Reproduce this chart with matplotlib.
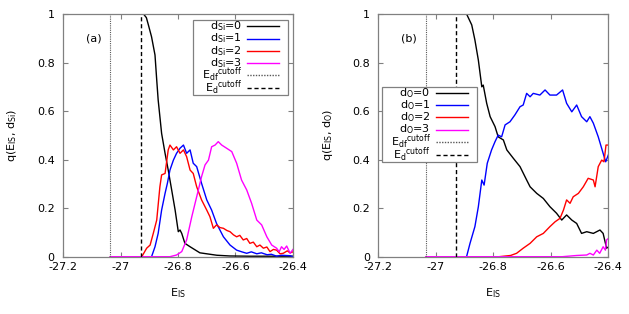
import numpy as np
import matplotlib
matplotlib.use("Agg")
import matplotlib.pyplot as plt
from matplotlib.patches import Rectangle
from matplotlib.ticker import FuncFormatter

plt.rcParams['font.family'] = ['DejaVu Sans']
plt.rcParams['font.size'] = 8
plt.rcParams['mathtext.default'] = 'regular'
plt.rcParams['axes.unicode_minus'] = False

# cutoff energies
e_df = -27.035
e_d = -26.93

xticks = [-27.2, -27.0, -26.8, -26.6, -26.4]
xticklabels = ["-27.2", "-27", "-26.8", "-26.6", "-26.4"]
yticks = [0, 0.2, 0.4, 0.6, 0.8, 1.0]

# panel (a): d_Si
a0_x = [-27.035, -26.92, -26.91, -26.903, -26.892, -26.880, -26.874, -26.869, -26.857, -26.845,
        -26.834, -26.822, -26.810, -26.799, -26.793, -26.787, -26.776, -26.758, -26.724, -26.665,
        -26.62, -26.55, -26.4]
a0_y = [1, 1, 0.985, 0.955, 0.906, 0.831, 0.728, 0.646, 0.508, 0.426,
        0.357, 0.275, 0.192, 0.103, 0.11, 0.096, 0.055, 0.041, 0.016, 0.006,
        0.003, 0.002, 0.002]

a1_x = [-27.035, -26.892, -26.880, -26.869, -26.857, -26.845, -26.837, -26.828, -26.816, -26.805,
        -26.793, -26.781, -26.770, -26.758, -26.747, -26.735, -26.718, -26.700, -26.683, -26.666,
        -26.642, -26.619, -26.596, -26.578, -26.561, -26.545, -26.526, -26.51, -26.49, -26.475,
        -26.457, -26.44, -26.41, -26.4]
a1_y = [0, 0, 0.041, 0.096, 0.192, 0.261, 0.302, 0.357, 0.398, 0.426,
        0.447, 0.46, 0.426, 0.44, 0.385, 0.371, 0.302, 0.234, 0.192, 0.137,
        0.082, 0.048, 0.027, 0.02, 0.014, 0.02, 0.012, 0.016, 0.008, 0.01,
        0.002, 0.006, 0.004, 0.0]

a2_x = [-27.035, -26.926, -26.909, -26.897, -26.886, -26.874, -26.863, -26.857, -26.845, -26.834,
        -26.828, -26.816, -26.805, -26.793, -26.781, -26.770, -26.758, -26.747, -26.735, -26.718,
        -26.700, -26.689, -26.677, -26.666, -26.654, -26.642, -26.63, -26.619, -26.607, -26.596,
        -26.585, -26.573, -26.561, -26.550, -26.538, -26.526, -26.515, -26.503, -26.491, -26.480,
        -26.468, -26.457, -26.445, -26.434, -26.42, -26.41, -26.4]
a2_y = [0, 0, 0.035, 0.048, 0.096, 0.151, 0.288, 0.337, 0.343, 0.44,
        0.46, 0.44, 0.453, 0.426, 0.44, 0.412, 0.357, 0.343, 0.288, 0.234,
        0.192, 0.165, 0.117, 0.131, 0.12, 0.117, 0.108, 0.103, 0.09, 0.082,
        0.088, 0.069, 0.075, 0.055, 0.06, 0.041, 0.048, 0.035, 0.04, 0.021,
        0.03, 0.027, 0.012, 0.014, 0.024, 0.016, 0.02]

a3_x = [-27.035, -26.828, -26.805, -26.787, -26.770, -26.752, -26.735, -26.718, -26.706, -26.694,
        -26.683, -26.671, -26.660, -26.648, -26.631, -26.613, -26.596, -26.579, -26.561, -26.544,
        -26.526, -26.509, -26.491, -26.474, -26.457, -26.448, -26.44, -26.431, -26.422, -26.41, -26.4]
a3_y = [0, 0, 0.007, 0.021, 0.069, 0.165, 0.247, 0.33, 0.378, 0.398,
        0.453, 0.46, 0.474, 0.46, 0.447, 0.433, 0.385, 0.316, 0.275, 0.22,
        0.151, 0.131, 0.082, 0.048, 0.035, 0.02, 0.041, 0.03, 0.044, 0.014, 0.03]

# panel (b): d_O
b0_x = [-27.035, -26.893, -26.875, -26.864, -26.852, -26.840, -26.835, -26.823, -26.811, -26.794,
        -26.783, -26.765, -26.753, -26.730, -26.707, -26.684, -26.672, -26.649, -26.626, -26.603,
        -26.580, -26.562, -26.545, -26.527, -26.510, -26.493, -26.475, -26.452, -26.429, -26.418,
        -26.406, -26.4]
b0_y = [1, 1, 0.955, 0.893, 0.81, 0.70, 0.707, 0.632, 0.577, 0.536,
        0.494, 0.481, 0.44, 0.405, 0.371, 0.316, 0.288, 0.261, 0.240, 0.206,
        0.179, 0.151, 0.172, 0.151, 0.137, 0.096, 0.103, 0.096, 0.110, 0.096,
        0.035, 0.04]

b1_x = [-27.035, -26.893, -26.881, -26.864, -26.852, -26.840, -26.832, -26.821, -26.806, -26.794,
        -26.783, -26.771, -26.759, -26.742, -26.725, -26.707, -26.696, -26.684, -26.672, -26.661,
        -26.638, -26.620, -26.603, -26.580, -26.559, -26.545, -26.527, -26.510, -26.493, -26.475,
        -26.464, -26.452, -26.435, -26.418, -26.409, -26.4]
b1_y = [0, 0, 0.055, 0.124, 0.206, 0.316, 0.295, 0.385, 0.44, 0.474,
        0.501, 0.494, 0.543, 0.556, 0.584, 0.618, 0.625, 0.673, 0.659, 0.673,
        0.666, 0.687, 0.666, 0.666, 0.687, 0.632, 0.597, 0.625, 0.577, 0.556,
        0.577, 0.55, 0.494, 0.426, 0.391, 0.419]

b2_x = [-27.035, -26.78, -26.74, -26.719, -26.696, -26.672, -26.649, -26.626, -26.603, -26.585,
        -26.568, -26.556, -26.545, -26.533, -26.522, -26.504, -26.487, -26.470, -26.452, -26.446,
        -26.435, -26.423, -26.415, -26.408, -26.4]
b2_y = [0, 0, 0.005, 0.014, 0.035, 0.055, 0.082, 0.096, 0.124, 0.144,
        0.158, 0.192, 0.234, 0.22, 0.247, 0.261, 0.288, 0.323, 0.316, 0.288,
        0.371, 0.398, 0.391, 0.46, 0.46]

b3_x = [-27.035, -26.56, -26.51, -26.475, -26.464, -26.452, -26.44, -26.43, -26.418, -26.41,
        -26.406, -26.4]
b3_y = [0, 0, 0.005, 0.007, 0.014, 0.007, 0.027, 0.014, 0.041, 0.027,
        0.069, 0.075]

colors = ['black', '#0000ff', '#ff0000', '#ff00ff']
frame = '#808080'


def draw_key(ax, x0, ytop, names):
    w, h = 0.413, 0.309
    ax.add_patch(Rectangle((x0, ytop - h), w, h, transform=ax.transAxes,
                           facecolor='white', edgecolor=frame, lw=0.9, zorder=5))
    rows = [0.026, 0.076, 0.126, 0.176, 0.226, 0.281]
    styles = [(c, '-') for c in colors] + [('0.35', (0, (1, 1))), ('black', (0, (3, 2)))]
    for name, dy, (c, ls) in zip(names, rows, styles):
        y = ytop - dy
        ax.text(x0 + 0.212, y, name, transform=ax.transAxes, ha='right',
                va='center', zorder=6)
        ax.plot([x0 + 0.234, x0 + 0.376], [y, y], transform=ax.transAxes,
                color=c, ls=ls, lw=1.0, zorder=6)


fig = plt.figure(figsize=(6.29, 3.14), dpi=100)
ax_a = fig.add_axes([63 / 629, 1 - 256.7 / 314, 230 / 629, 242.7 / 314])
ax_b = fig.add_axes([378.3 / 629, 1 - 256.7 / 314, 230 / 629, 242.7 / 314])

panels = [
    (ax_a, [(a0_x, a0_y), (a1_x, a1_y), (a2_x, a2_y), (a3_x, a3_y)], 'Si', '(a)', 0.565, 0.975),
    (ax_b, [(b0_x, b0_y), (b1_x, b1_y), (b2_x, b2_y), (b3_x, b3_y)], 'O', '(b)', 0.015, 0.700),
]

for ax, series, sp, tag, kx, ky in panels:
    for (x, y), c in zip(series, colors):
        ax.plot(x, y, color=c, lw=1.0)
    ax.axvline(e_df, color='0.35', ls=(0, (1, 1)), lw=0.8)
    ax.axvline(e_d, color='black', ls=(0, (3, 2)), lw=1.0)

    ax.set_xlim(-27.2, -26.4)
    ax.set_ylim(0, 1)
    ax.set_xticks(xticks)
    ax.set_xticklabels(xticklabels)
    ax.set_yticks(yticks)
    ax.yaxis.set_major_formatter(FuncFormatter(lambda v, p: '%g' % v))
    ax.tick_params(direction='in', top=True, right=True, length=3.5,
                   width=0.8, color=frame)
    ax.tick_params(axis='x', pad=4)
    ax.tick_params(axis='y', pad=6)
    for s in ax.spines.values():
        s.set_color(frame)
        s.set_linewidth(0.9)

    ax.set_xlabel('E$_{IS}$')
    ax.xaxis.set_label_coords(0.5, -0.12)
    ax.set_ylabel('q(E$_{IS}$, d$_{%s}$)' % sp)
    ax.yaxis.set_label_coords(-0.19, 0.5)
    ax.text(-27.092, 0.897, tag, ha='center', va='center')

    names = ['d$_{%s}$=%d' % (sp, i) for i in range(4)]
    names += ['E$_{df}{}^{cutoff}$', 'E$_{d}{}^{cutoff}$']
    draw_key(ax, kx, ky, names)

fig.savefig('out.png', dpi=100)
